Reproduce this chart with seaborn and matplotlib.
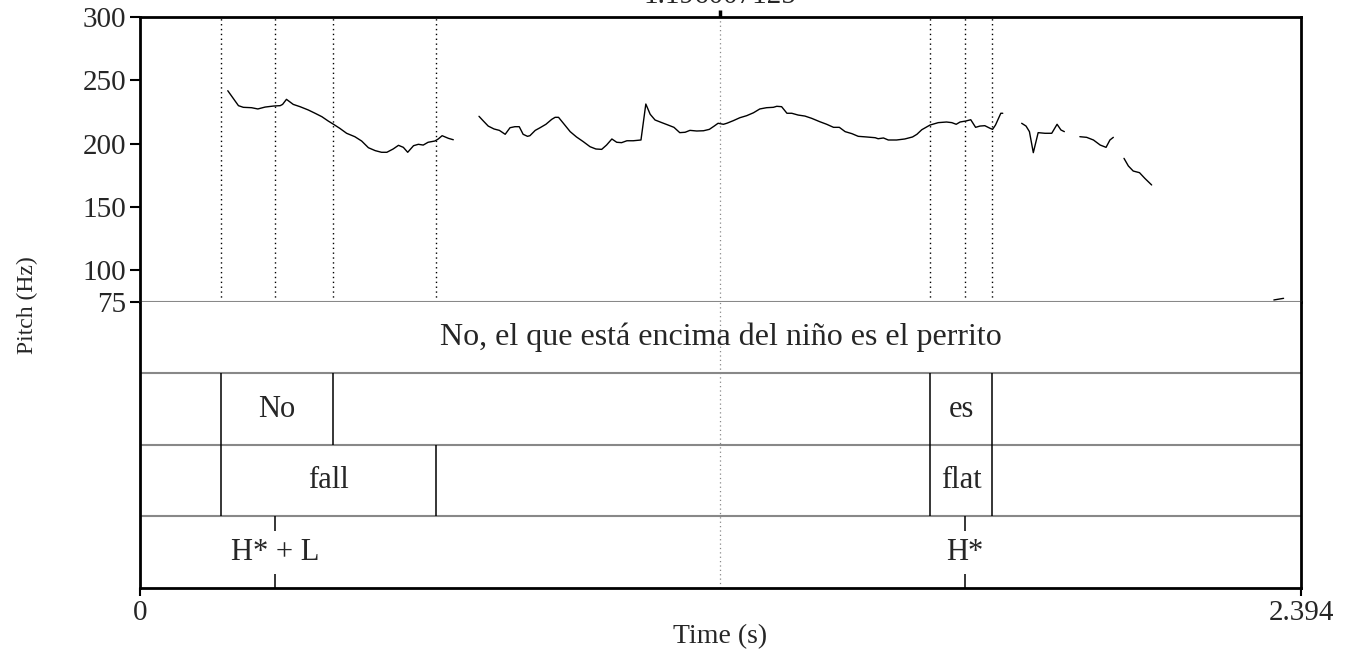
import pandas as pd
import numpy as np
import matplotlib
matplotlib.use("Agg")
import matplotlib.pyplot as plt
import seaborn as sns

sns.set_theme(style="white")
plt.rcParams['font.family'] = ['Liberation Serif', 'DejaVu Serif']

# time axis (s)
t_end = 2.394
cursor_t = 1.196
cursor_label = "1.196007125"

# pitch contour, voiced stretches (time in s, F0 in Hz)
seg1_t = [0.181, 0.203, 0.213, 0.230, 0.243, 0.258, 0.275, 0.289, 0.294, 0.302,
          0.316, 0.330, 0.347, 0.361, 0.375, 0.388, 0.399, 0.412, 0.426, 0.443,
          0.457, 0.471, 0.485, 0.498, 0.509, 0.522, 0.533, 0.543, 0.552, 0.564,
          0.574, 0.584, 0.594, 0.608, 0.615, 0.623, 0.636, 0.646]
seg1_hz = [241.8, 230.0, 228.7, 228.4, 227.4, 228.9, 229.7, 230.0, 231.0, 235.0,
           231.0, 229.2, 226.6, 224.0, 221.3, 217.9, 215.3, 212.1, 208.2, 205.5,
           202.1, 196.8, 194.5, 193.2, 193.2, 195.8, 198.7, 197.1, 193.2, 198.4,
           199.5, 198.9, 201.1, 202.1, 203.7, 206.3, 204.2, 203.1]

seg2_t = [0.699, 0.708, 0.718, 0.730, 0.741, 0.753, 0.763, 0.773, 0.782, 0.790,
          0.799, 0.804, 0.815, 0.825, 0.837, 0.849, 0.856, 0.863, 0.873, 0.887,
          0.900, 0.914, 0.928, 0.940, 0.952, 0.962, 0.973, 0.983, 0.993, 1.004,
          1.017, 1.033, 1.043, 1.052, 1.062, 1.076, 1.089, 1.101, 1.113, 1.124,
          1.134, 1.148, 1.162, 1.174, 1.184, 1.192, 1.203,
          1.210, 1.223, 1.237, 1.251, 1.265, 1.278, 1.292, 1.306, 1.313, 1.323,
          1.334, 1.344, 1.357, 1.371, 1.385, 1.402, 1.416, 1.430, 1.442, 1.454,
          1.468, 1.481, 1.498, 1.516, 1.522, 1.533, 1.543, 1.560, 1.577, 1.593,
          1.602, 1.612, 1.629, 1.646, 1.663, 1.674, 1.683, 1.691, 1.703, 1.713,
          1.723, 1.732, 1.742, 1.753, 1.758, 1.764, 1.775, 1.779]
seg2_hz = [221.6, 217.9, 213.9, 211.6, 210.5, 207.4, 212.6, 213.4, 213.4, 207.4,
           205.8, 206.3, 210.5, 212.6, 215.3, 219.2, 220.8, 220.8, 216.1, 209.5,
           205.3, 201.6, 197.6, 195.8, 195.5, 198.9, 203.7, 201.1, 200.8, 202.3,
           202.3, 202.9, 231.3, 223.2, 218.7, 216.6, 214.7, 212.9, 208.7, 209.0,
           210.5, 210.0, 210.2, 211.3, 213.9, 216.1, 215.3,
           216.1, 218.1, 220.5, 222.1, 224.4, 227.4, 228.4, 228.7, 229.5, 229.2,
           224.0, 224.0, 222.6, 221.8, 220.0, 217.3, 215.3, 212.9, 212.9, 209.5,
           207.9, 205.8, 205.3, 204.7, 203.9, 204.5, 202.9, 202.9, 203.7, 205.3,
           207.4, 211.0, 214.7, 216.6, 217.1, 216.6, 215.3, 217.1, 217.9, 218.9,
           212.9, 213.9, 214.2, 212.1, 211.3, 214.7, 224.0, 224.0]

seg3_t = [1.818, 1.827, 1.834, 1.842, 1.852, 1.866, 1.880, 1.891, 1.899, 1.906]
seg3_hz = [216.1, 213.9, 209.5, 192.9, 208.7, 208.2, 208.2, 215.3, 210.8, 209.5]

seg4_t = [1.938, 1.952, 1.966, 1.980, 1.992, 2.000, 2.007]
seg4_hz = [205.5, 205.0, 202.9, 198.9, 197.1, 202.9, 205.0]

seg5_t = [2.029, 2.038, 2.048, 2.061, 2.072, 2.086]
seg5_hz = [188.4, 182.4, 178.4, 177.1, 172.6, 167.4]

seg6_t = [2.338, 2.358]
seg6_hz = [76.6, 77.9]

pitch_ticks = [75, 100, 150, 200, 250, 300]

# TextGrid tiers
sentence_text = "No, el que está encima del niño es el perrito"
words_start = [0.167, 1.629]
words_end = [0.398, 1.757]
words_text = ["No", "es"]
contour_start = [0.167, 1.629]
contour_end = [0.610, 1.757]
contour_text = ["fall", "flat"]
tones_t = [0.278, 1.701]
tones_text = ["H* + L", "H*"]

segments = [(seg1_t, seg1_hz), (seg2_t, seg2_hz), (seg3_t, seg3_hz),
            (seg4_t, seg4_hz), (seg5_t, seg5_hz), (seg6_t, seg6_hz)]
pitch_df = pd.concat(
    [pd.DataFrame({'Time': t, 'F0': hz, 'seg': i}) for i, (t, hz) in enumerate(segments)],
    ignore_index=True)

fig = plt.figure(figsize=(13.48, 6.56), dpi=100)
ax_p = fig.add_axes([0.10386, 0.53963, 0.86128, 0.43445])
ax_t = fig.add_axes([0.10386, 0.10366, 0.86128, 0.43598])

# pitch panel
sns.lineplot(data=pitch_df, x='Time', y='F0', units='seg', estimator=None, sort=False,
             color='black', linewidth=1.0, ax=ax_p)
ax_p.set_xlim(0, t_end)
ax_p.set_ylim(75, 300)

# dotted guides at every tier boundary / point
for t in sorted(set(words_start + words_end + contour_start + contour_end + tones_t)):
    ax_p.axvline(t, color='black', linewidth=1, linestyle=(0, (1, 2.5)))
ax_p.axvline(cursor_t, color='#888888', linewidth=0.9, linestyle=(0, (1, 2.5)))

for side in ['top', 'left', 'right']:
    ax_p.spines[side].set_color('black')
    ax_p.spines[side].set_linewidth(2)
ax_p.spines['bottom'].set_color('#888888')
ax_p.spines['bottom'].set_linewidth(1.5)

ax_p.set_yticks(pitch_ticks)
ax_p.set_yticklabels([str(v) for v in pitch_ticks])
ax_p.tick_params(axis='y', direction='out', length=7, width=1.5, color='black',
                 labelsize=21, pad=3, left=True)
ax_p.xaxis.tick_top()
ax_p.set_xticks([cursor_t])
ax_p.set_xticklabels([])
ax_p.tick_params(axis='x', direction='out', length=5, width=2.5, color='black', top=True)
ax_p.set_xlabel("")
ax_p.set_ylabel("")
# cursor time, mostly above the top edge as in the source picture
ax_p.annotate(cursor_label, xy=(cursor_t, 1.0), xycoords=('data', 'axes fraction'),
              xytext=(0, 10.2), textcoords='offset points', ha='center', va='baseline',
              fontsize=21, annotation_clip=False)

# tier panel
ax_t.set_xlim(0, t_end)
ax_t.set_ylim(4, 0)
for y in [1, 2, 3]:
    ax_t.axhline(y, color='#888888', linewidth=1.5)
ax_t.axvline(cursor_t, color='#888888', linewidth=0.9, linestyle=(0, (1, 2.5)))

ax_t.text(t_end / 2, 0.5, sentence_text, ha='center', va='center', fontsize=23)
for s, e, lab in zip(words_start, words_end, words_text):
    ax_t.vlines([s, e], 1, 2, color='black', linewidth=1.1)
    ax_t.text((s + e) / 2, 1.5, lab, ha='center', va='center', fontsize=22)
for s, e, lab in zip(contour_start, contour_end, contour_text):
    ax_t.vlines([s, e], 2, 3, color='black', linewidth=1.1)
    ax_t.text((s + e) / 2, 2.5, lab, ha='center', va='center', fontsize=22)
for t, lab in zip(tones_t, tones_text):
    ax_t.vlines(t, 3, 3.2, color='black', linewidth=1.1)
    ax_t.vlines(t, 3.8, 4, color='black', linewidth=1.1)
    ax_t.text(t, 3.5, lab, ha='center', va='center', fontsize=22)

ax_t.spines['top'].set_visible(False)
for side in ['bottom', 'left', 'right']:
    ax_t.spines[side].set_color('black')
    ax_t.spines[side].set_linewidth(2)
ax_t.set_yticks([])
ax_t.set_xticks([0, t_end])
ax_t.set_xticklabels(["0", "2.394"])
ax_t.tick_params(axis='x', direction='out', length=6, width=1.5, color='black',
                 labelsize=21, pad=3, bottom=True)
ax_t.set_xlabel("Time (s)", fontsize=20)
ax_t.xaxis.set_label_coords(0.5, -0.125)

fig.text(27 / 1348, 1 - 305 / 656, "Pitch (Hz)", rotation=90, ha='center', va='center',
         fontsize=17)

fig.savefig("out.png", dpi=100)
